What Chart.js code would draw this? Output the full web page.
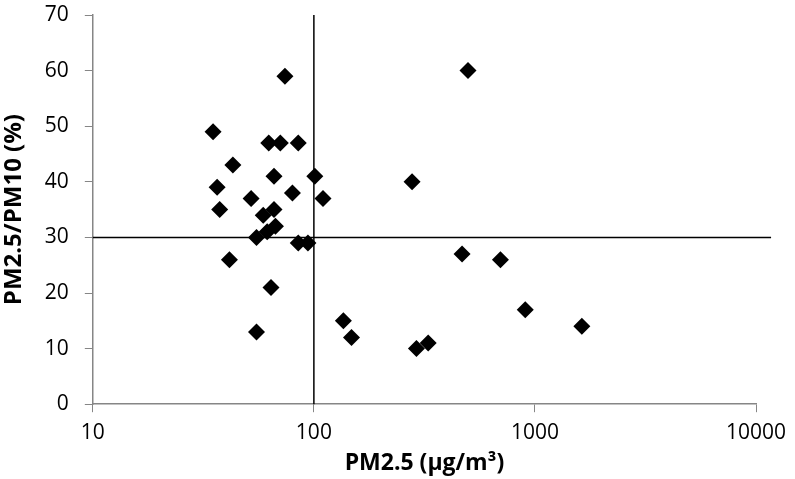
<!DOCTYPE html>
<html lang="en">
<head>
    <meta charset="UTF-8">
    <title>PM2.5 vs PM2.5/PM10</title>
    <script src="https://cdn.jsdelivr.net/npm/chart.js"></script>
    <style>
        html, body {
            margin: 0;
            padding: 0;
            background: #ffffff;
        }
        #wrap {
            width: 795px;
            height: 479px;
        }
    </style>
</head>
<body>
    <div id="wrap">
        <canvas id="scatterChart" width="795" height="479"></canvas>
    </div>

    <script>
        // PM2.5 concentration (ug/m3) and PM2.5/PM10 ratio (%)
        const pm25 = [74, 35, 62.5, 70.5, 85, 43, 66, 101, 36.5, 52, 80, 110, 37.5, 66, 59, 67, 61.5,
                      55, 85, 94, 41.5, 64, 55, 136, 148, 498, 278, 468, 698, 904, 1630, 291, 329];
        const ratio = [59, 49, 47, 47, 47, 43, 41, 41, 39, 37, 38, 37, 35, 35, 34, 32, 31,
                       30, 29, 29, 26, 21, 13, 15, 12, 60, 40, 27, 26, 17, 14, 10, 11];

        // reference lines: PM2.5 = 100 and ratio = 30 %
        const vLineX = [100, 100];
        const vLineY = [0, 70];
        const hLineX = [10, 11700];
        const hLineY = [30, 30];

        const xTicks = [10, 100, 1000, 10000];
        const yTicks = [0, 10, 20, 30, 40, 50, 60, 70];

        const toPoints = (xs, ys) => xs.map((x, i) => ({ x: x, y: ys[i] }));

        const fontFamily = '"Open Sans", Lato, sans-serif';
        const axisGrey = '#868686';

        const ctx = document.getElementById('scatterChart').getContext('2d');
        new Chart(ctx, {
            type: 'scatter',
            data: {
                datasets: [
                    {
                        label: 'PM2.5/PM10',
                        data: toPoints(pm25, ratio),
                        pointStyle: 'rectRot',
                        pointRadius: 8.5,
                        pointHoverRadius: 8.5,
                        backgroundColor: '#000000',
                        borderColor: '#000000',
                        borderWidth: 0
                    },
                    {
                        label: 'x = 100',
                        data: toPoints(vLineX, vLineY),
                        showLine: true,
                        pointRadius: 0,
                        borderColor: '#000000',
                        borderWidth: 1.5,
                        clip: false
                    },
                    {
                        label: 'y = 30',
                        data: toPoints(hLineX, hLineY),
                        showLine: true,
                        pointRadius: 0,
                        borderColor: '#000000',
                        borderWidth: 1.5,
                        clip: false
                    }
                ]
            },
            options: {
                responsive: false,
                animation: false,
                layout: {
                    padding: { left: 0, right: 39, top: 15, bottom: 2 }
                },
                plugins: {
                    legend: { display: false },
                    tooltip: { enabled: false }
                },
                scales: {
                    x: {
                        type: 'logarithmic',
                        min: 10,
                        max: 10000,
                        afterBuildTicks: function(axis) {
                            axis.ticks = xTicks.map(v => ({ value: v }));
                        },
                        ticks: {
                            color: '#000000',
                            font: { family: fontFamily, size: 21 },
                            padding: 8,
                            maxRotation: 0,
                            callback: function(value) { return String(value); }
                        },
                        grid: {
                            display: true,
                            drawOnChartArea: false,
                            drawTicks: true,
                            tickLength: 8,
                            color: axisGrey
                        },
                        border: { color: axisGrey, width: 1.5 },
                        title: {
                            display: true,
                            text: 'PM2.5 (µg/m³)',
                            color: '#000000',
                            font: { family: fontFamily, size: 23, weight: 'bold' },
                            padding: { top: -4, bottom: 0 }
                        }
                    },
                    y: {
                        min: 0,
                        max: 70,
                        afterBuildTicks: function(axis) {
                            axis.ticks = yTicks.map(v => ({ value: v }));
                        },
                        afterFit: function(axis) {
                            // let the top tick label hang into the padding
                            axis.paddingTop = 0;
                        },
                        ticks: {
                            color: '#000000',
                            font: { family: fontFamily, size: 21 },
                            padding: 16
                        },
                        grid: {
                            display: true,
                            drawOnChartArea: false,
                            drawTicks: true,
                            tickLength: 8,
                            color: axisGrey
                        },
                        border: { color: axisGrey, width: 1.5 },
                        title: {
                            display: true,
                            text: 'PM2.5/PM10 (%)',
                            color: '#000000',
                            font: { family: fontFamily, size: 24, weight: 'bold' },
                            padding: { top: 0, bottom: 0 }
                        }
                    }
                }
            }
        });
    </script>
</body>
</html>
